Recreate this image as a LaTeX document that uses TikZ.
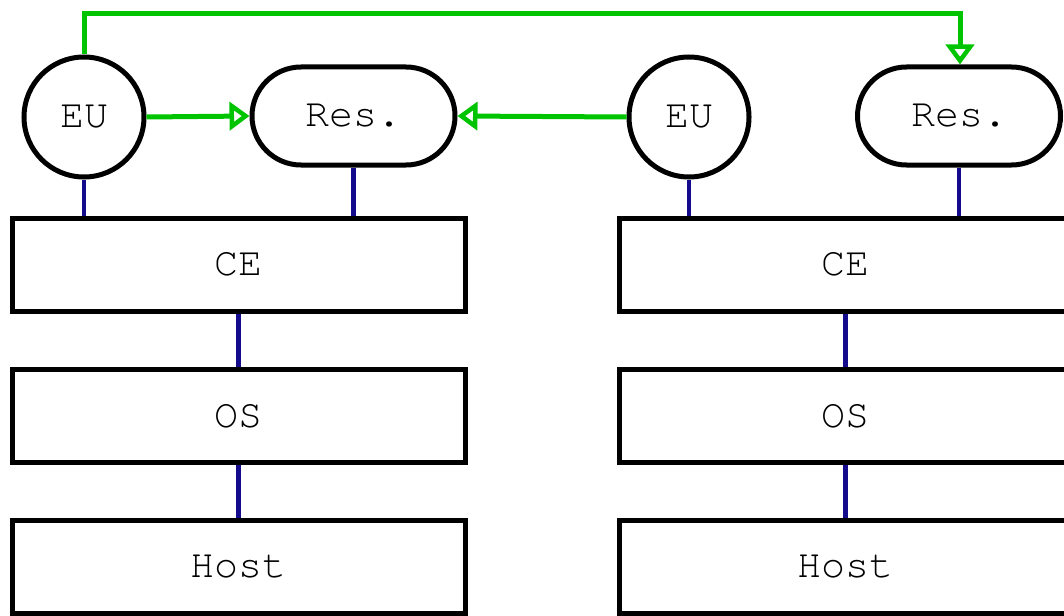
\documentclass[tikz,border=0pt]{standalone}
\usepackage{fontspec}
\setmonofont{TeX Gyre Cursor}
\usetikzlibrary{arrows.meta}
\definecolor{eugreen}{RGB}{0,196,0}
\definecolor{linkblue}{RGB}{20,10,140}
\tikzset{
  base/.style={draw=black, line width=5pt, font=\ttfamily\fontsize{40}{40}\selectfont, inner sep=0pt},
  layerbox/.style={base, rectangle, minimum width=453pt, minimum height=93pt},
  eunode/.style={base, circle, minimum size=120pt},
  resnode/.style={base, rectangle, rounded corners=49pt, minimum width=203pt, minimum height=98pt},
  link/.style={draw=linkblue, line width=4.5pt},
  flow/.style={draw=eugreen, line width=5pt, -{Triangle[open, length=20pt, width=28pt, line width=4.5pt]}},
}
\begin{document}
\begin{tikzpicture}[x=1pt, y=-1pt]
\useasboundingbox (0,0) rectangle (1064,615);
\clip (0,0) rectangle (1064,615);
% left stack
\node[eunode] (eu1) at (84,117) {EU};
\node[resnode] (res1) at (353.5,116) {Res.};
\node[layerbox] (ce1) at (238.5,264.5) {CE};
\node[layerbox] (os1) at (238.5,416) {OS};
\node[layerbox] (host1) at (238.5,566.5) {Host};
% right stack
\node[eunode] (eu2) at (689,117) {EU};
\node[resnode] (res2) at (959,116) {Res.};
\node[layerbox] (ce2) at (845.5,264.5) {CE};
\node[layerbox] (os2) at (845.5,416) {OS};
\node[layerbox] (host2) at (845.5,566.5) {Host};
% blue links
\draw[link] (eu1.south) -- (eu1.south |- ce1.north);
\draw[link] (res1.south) -- (res1.south |- ce1.north);
\draw[link] (ce1.south) -- (os1.north);
\draw[link] (os1.south) -- (host1.north);
\draw[link] (eu2.south) -- (eu2.south |- ce2.north);
\draw[link] (res2.south) -- (res2.south |- ce2.north);
\draw[link] (ce2.south) -- (os2.north);
\draw[link] (os2.south) -- (host2.north);
% green flows
\draw[flow] (eu1.east) -- (res1.west);
\draw[flow] (eu2.west) -- (res1.east);
\coordinate (top1) at (84,14);
\coordinate (top2) at (960,14);
\draw[flow] (eu1.north) -- (top1) -- (top2) -- (res2.north -| top2);
\end{tikzpicture}
\end{document}
